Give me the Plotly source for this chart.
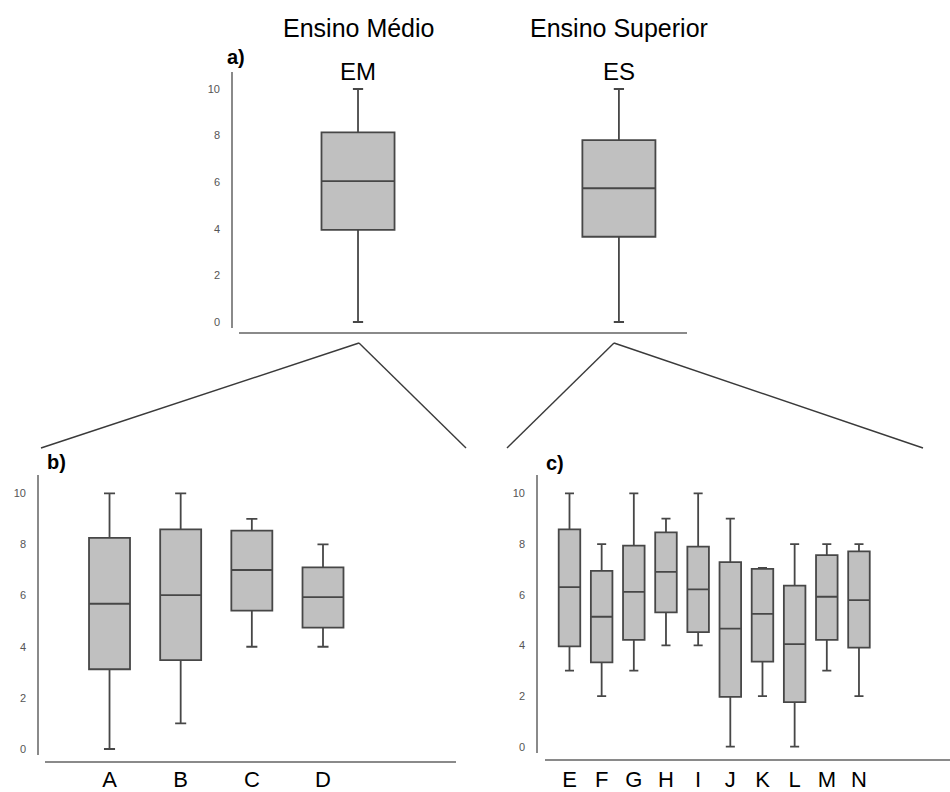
import plotly.graph_objects as go

# ---------------- data ----------------
# panel a
cats_a = ["EM", "ES"]
groups_a = ["Ensino Médio", "Ensino Superior"]
q1_a = [3.95, 3.66]
med_a = [6.05, 5.74]
q3_a = [8.14, 7.81]
lo_a = [0, 0]
hi_a = [10, 10]

# panel b
cats_b = ["A", "B", "C", "D"]
q1_b = [3.12, 3.48, 5.41, 4.75]
med_b = [5.68, 6.02, 7.0, 5.94]
q3_b = [8.26, 8.59, 8.54, 7.1]
lo_b = [0, 1, 4, 4]
hi_b = [10, 10, 9, 8]

# panel c
cats_c = ["E", "F", "G", "H", "I", "J", "K", "L", "M", "N"]
q1_c = [3.96, 3.33, 4.22, 5.3, 4.52, 1.97, 3.36, 1.76, 4.22, 3.91]
med_c = [6.3, 5.13, 6.11, 6.9, 6.21, 4.66, 5.24, 4.05, 5.92, 5.79]
q3_c = [8.58, 6.94, 7.94, 8.46, 7.9, 7.29, 7.02, 6.36, 7.56, 7.71]
lo_c = [3, 2, 3, 4, 4, 0, 2, 0, 3, 2]
hi_c = [10, 8, 10, 9, 10, 9, 7.06, 8, 8, 8]

yticks = [0, 2, 4, 6, 8, 10]

# ---------------- layout helpers ----------------
W, H = 950, 792
FONT = "Arial, Liberation Sans, sans-serif"
FILL = "#c0c0c0"
EDGE = "#474747"
AXC = "#8a8a8a"


def px(x):
    return x / W


def py(y):
    return 1 - y / H


fig = go.Figure()


def add_box(cats, q1, med, q3, lo, hi, xa, ya, width, ww):
    fig.add_trace(go.Box(
        x=cats, q1=q1, median=med, q3=q3, lowerfence=lo, upperfence=hi,
        xaxis=xa, yaxis=ya, width=width, whiskerwidth=ww,
        fillcolor=FILL, line=dict(color=EDGE, width=1.8),
        boxpoints=False, showlegend=False, hoverinfo="skip",
    ))


add_box(cats_a, q1_a, med_a, q3_a, lo_a, hi_a, "x", "y", 0.28, 0.14)
add_box(cats_b, q1_b, med_b, q3_b, lo_b, hi_b, "x2", "y2", 0.576, 0.27)
add_box(cats_c, q1_c, med_c, q3_c, lo_c, hi_c, "x3", "y3", 0.67, 0.42)

ytick_style = dict(
    tickmode="array", tickvals=yticks, ticktext=[str(v) for v in yticks],
    tickfont=dict(family=FONT, size=11, color="#555555"),
    showgrid=False, zeroline=False, showline=False, ticks="",
    ticklabelstandoff=11, automargin=False,
)

fig.update_layout(
    width=W, height=H,
    margin=dict(l=0, r=0, t=0, b=0, autoexpand=False),
    paper_bgcolor="white", plot_bgcolor="white",
    font=dict(family=FONT, color="black"),
    # panel a
    xaxis=dict(domain=[px(232), px(687)], range=[-0.483, 1.261], type="category",
               categoryorder="array", categoryarray=cats_a, automargin=False,
               side="top", showgrid=False, zeroline=False, showline=False, ticks="",
               tickfont=dict(family=FONT, size=24, color="black"), anchor="y"),
    yaxis=dict(domain=[py(333), py(86)], range=[-0.472, 10.129], anchor="x", **ytick_style),
    # panel b
    xaxis2=dict(domain=[px(38), px(456)], range=[-1.005, 4.869], type="category",
                categoryorder="array", categoryarray=cats_b, automargin=False,
                showgrid=False, zeroline=False, showline=False, ticks="",
                ticklabelstandoff=2,
                tickfont=dict(family=FONT, size=22, color="black"), anchor="y2"),
    yaxis2=dict(domain=[py(762), py(475)], range=[-0.508, 10.716], anchor="x2", **ytick_style),
    # panel c
    xaxis3=dict(domain=[px(537), px(950)], range=[-1.01, 11.83], type="category",
                categoryorder="array", categoryarray=cats_c, automargin=False,
                showgrid=False, zeroline=False, showline=False, ticks="",
                ticklabelstandoff=4,
                tickfont=dict(family=FONT, size=22, color="black"), anchor="y3"),
    yaxis3=dict(domain=[py(760), py(475)], range=[-0.525, 10.726], anchor="x3", **ytick_style),
)

# axis lines (detached, as in the reference)
shapes = []


def seg(x0, y0, x1, y1, color, width):
    shapes.append(dict(type="line", xref="paper", yref="paper",
                       x0=px(x0), y0=py(y0), x1=px(x1), y1=py(y1),
                       line=dict(color=color, width=width)))


seg(232, 72, 232, 328, AXC, 2)
seg(239, 333, 687, 333, AXC, 2)
seg(38, 475, 38, 755, AXC, 2)
seg(45, 762, 456, 762, AXC, 2)
seg(537, 475, 537, 753, AXC, 2)
seg(545, 760, 950, 760, AXC, 2)

# connecting "zoom" lines
LC = "#3a3a3a"
seg(41, 448, 359, 343, LC, 1.4)
seg(359, 343, 466, 448, LC, 1.4)
seg(507, 448, 614, 343, LC, 1.4)
seg(614, 343, 923, 448, LC, 1.4)

fig.update_layout(shapes=shapes)

# group titles and panel letters
annotations = []
for c, g in zip(cats_a, groups_a):
    annotations.append(dict(x=c, xref="x", y=py(28), yref="paper", text=g,
                            showarrow=False, font=dict(family=FONT, size=25, color="black"),
                            xanchor="center", yanchor="middle"))
for t, x, y in [("a)", 236, 57), ("b)", 56, 462), ("c)", 555, 463)]:
    annotations.append(dict(x=px(x), y=py(y), xref="paper", yref="paper", text="<b>%s</b>" % t,
                            showarrow=False, font=dict(family=FONT, size=20, color="black"),
                            xanchor="center", yanchor="middle"))
fig.update_layout(annotations=annotations)

fig.write_html("out.html")
